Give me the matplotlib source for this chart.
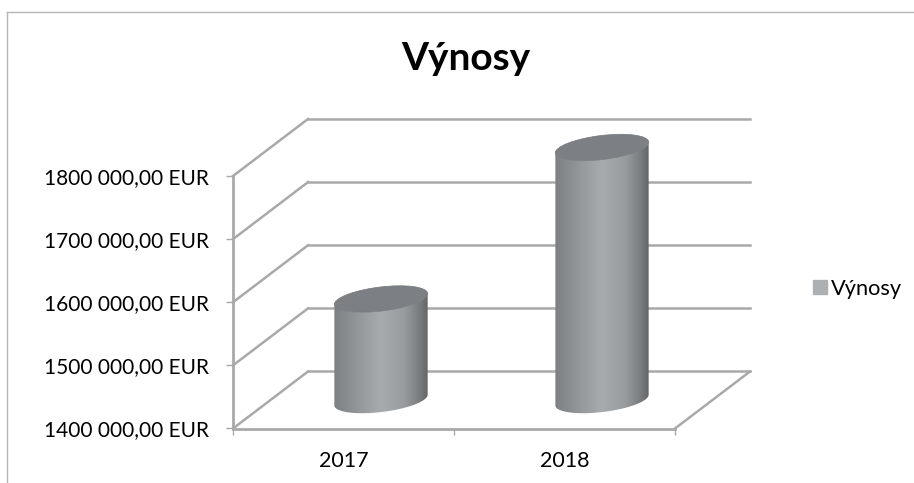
import numpy as np
import matplotlib
matplotlib.use('Agg')
import matplotlib.pyplot as plt
from matplotlib.colors import LinearSegmentedColormap
from matplotlib.patches import Ellipse, Patch, PathPatch
from matplotlib.path import Path
from matplotlib.transforms import Affine2D, IdentityTransform

years = ['2017', '2018']
vynosy = [1560000, 1800000]
tick_values = [1400000, 1500000, 1600000, 1700000, 1800000]
tick_labels = ['1400 000,00 EUR', '1500 000,00 EUR', '1600 000,00 EUR', '1700 000,00 EUR', '1800 000,00 EUR']
series_name = 'Výnosy'

W, H = 914, 483
GRID = '#a9a9a9'
plt.rcParams['font.family'] = ['Lato', 'DejaVu Sans']

fig = plt.figure(figsize=(W / 100, H / 100), dpi=100)
ax = fig.add_axes([233 / W, (H - 428.5) / H, (675 - 233) / W, 252.5 / H])
ax.patch.set_alpha(0)
ax.set_xlim(0, 2)
ax.set_ylim(tick_values[0], tick_values[-1])
ax.autoscale(False)

# outer chart frame, top and left only are visible
fig.add_artist(plt.Line2D([7 / W, 7 / W], [0, (H - 11.5) / H], color='#b5b5b5', lw=1))
fig.add_artist(plt.Line2D([7 / W, 1], [(H - 11.5) / H, (H - 11.5) / H], color='#b5b5b5', lw=1))

back = ax.transData + Affine2D().translate(75, 57)
mid = ax.transData + Affine2D().translate(37.5, 28.5)
px = IdentityTransform()

# back wall lines + side wall diagonals
for v in tick_values:
    ax.plot([0, 2], [v, v], transform=back, color=GRID, lw=1.8, clip_on=False, zorder=1)
    a = ax.transData.transform((0, v))
    b = back.transform((0, v))
    ax.plot([a[0], b[0]], [a[1], b[1]], transform=px, color=GRID, lw=1.8, clip_on=False, zorder=1)

# floor right edge
a = ax.transData.transform((2, tick_values[0]))
b = back.transform((2, tick_values[0]))
ax.plot([a[0], b[0]], [a[1], b[1]], transform=px, color=GRID, lw=1.8, clip_on=False, zorder=1)

body_cmap = LinearSegmentedColormap.from_list('cyl', [
    (0, '#7d8083'), (0.25, '#94979a'), (0.5, '#a8abae'), (0.75, '#989c9f'), (0.92, '#777b7d'), (1, '#636769')])
gradient = np.linspace(0, 1, 200).reshape(1, -1)

half_w = 47
half_h = 12
tilt = np.radians(7)


def ellipse_points(cx, cy, t):
    ex = half_w * np.cos(t)
    ey = half_h * np.sin(t)
    return cx + ex * np.cos(tilt) - ey * np.sin(tilt), cy + ex * np.sin(tilt) + ey * np.cos(tilt)


for i, val in enumerate(vynosy):
    bx, by = mid.transform((i + 0.5, tick_values[0]))
    tx, ty = mid.transform((i + 0.5, val))
    t = np.linspace(np.pi, 2 * np.pi, 60)
    low_x, low_y = ellipse_points(bx, by, t)
    up_x, up_y = ellipse_points(tx, ty, t[::-1])
    verts = np.column_stack([np.r_[low_x, up_x], np.r_[low_y, up_y]])
    outline = PathPatch(Path(np.vstack([verts, verts[0]]), closed=True), transform=px, fc='none', ec='none')
    outline.set_clip_on(False)
    ax.add_patch(outline)
    im = ax.imshow(gradient, cmap=body_cmap, aspect='auto', transform=px, zorder=3,
                   extent=[bx - half_w, bx + half_w, by - 30, ty + 30])
    im.set_clip_path(outline)
    im.set_clip_box(fig.bbox)
    ax.add_patch(Ellipse((tx, ty), 2 * half_w, 2 * half_h, angle=np.degrees(tilt), transform=px,
                         fc='#7c8084', ec='#74787b', lw=0.5, zorder=4, clip_on=False))

ax.set_xlim(0, 2)
ax.set_ylim(tick_values[0], tick_values[-1])

for s in ['top', 'right']:
    ax.spines[s].set_visible(False)
for s in ['left', 'bottom']:
    ax.spines[s].set_color(GRID)
    ax.spines[s].set_linewidth(2)

ax.set_yticks(tick_values)
ax.set_yticklabels(tick_labels, fontsize=15)
ax.set_xticks([0, 1, 2])
ax.set_xticklabels([])
ax.set_xticks([0.5, 1.5], minor=True)
ax.set_xticklabels(years, minor=True, fontsize=15.5)
ax.tick_params(axis='y', length=5, width=1, color=GRID, pad=12.5)
ax.tick_params(axis='x', which='major', length=4, width=1, color=GRID)
ax.tick_params(axis='x', which='minor', length=0, pad=16)

fig.text(466 / W, (H - 59) / H, series_name, fontsize=28, fontweight='bold', ha='center', va='center')

fig.legend(handles=[Patch(color='#adb0b3', label=series_name)], loc='center left',
           bbox_to_anchor=(813 / W, (H - 289) / H), frameon=False, fontsize=15.7,
           handlelength=0.62, handleheight=0.62, handletextpad=0.2, borderpad=0, borderaxespad=0)

fig.savefig('out.png', dpi=100)
